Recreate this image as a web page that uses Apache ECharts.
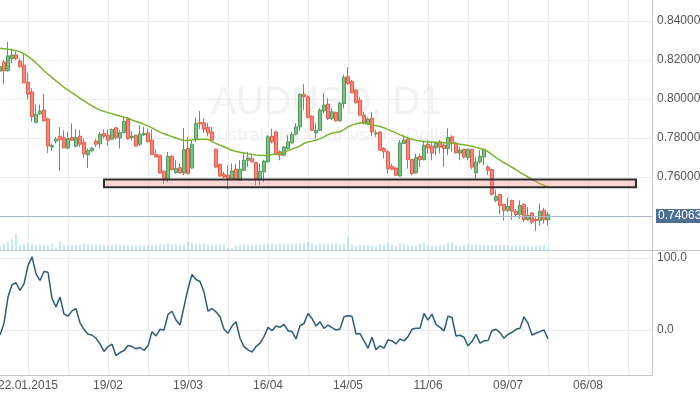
<!DOCTYPE html>
<html><head><meta charset="utf-8">
<script src="https://cdn.jsdelivr.net/npm/echarts@6/dist/echarts.min.js"></script>
<style>html,body{margin:0;padding:0;background:#fff}#c{width:700px;height:394px}</style>
</head><body><div id="c"></div>
<script>
// ---- data ----
const startDate = [2015, 0, 13];          // first trading day shown
const slotCount = 164;                    // trading-day slots on the axis
const tickLabels = ['22.01.2015', '19/02', '19/03', '16/04', '14/05', '11/06', '09/07', '06/08'];
const firstTick = 7, tickStep = 20, gridStep = 10;
const symbolTitle = 'AUDUSD, D1';
const symbolSubtitle = 'Australian Dollar vs US Dollar';
const lastPrice = 0.74063;
const zone = { from: 26, to: 159, top: 0.7587, bottom: 0.7548 };

// [open, close, low, high]
const candles = [
[0.8143,0.8166,0.8133,0.8185],[0.8190,0.8145,0.8075,0.8200],[0.8145,0.8221,0.8140,0.8294],[0.8207,0.8226,0.8183,0.8255],[0.8226,0.8207,0.8200,0.8243],
[0.8195,0.8166,0.8161,0.8209],[0.8173,0.8083,0.8083,0.8235],[0.8086,0.8025,0.7998,0.8135],[0.8036,0.7909,0.7883,0.8055],[0.7880,0.7922,0.7875,0.7972],
[0.7924,0.7938,0.7917,0.7972],[0.7943,0.7888,0.7883,0.8025],[0.7898,0.7759,0.7723,0.7905],[0.7754,0.7761,0.7734,0.7772],[0.7784,0.7794,0.7772,0.7806],
[0.7809,0.7792,0.7631,0.7856],[0.7801,0.7749,0.7746,0.7840],[0.7749,0.7797,0.7742,0.7831],[0.7803,0.7789,0.7784,0.7875],[0.7758,0.7803,0.7751,0.7844],
[0.7809,0.7768,0.7754,0.7840],[0.7777,0.7718,0.7698,0.7797],[0.7715,0.7736,0.7646,0.7746],[0.7734,0.7748,0.7729,0.7754],[0.7784,0.7768,0.7754,0.7794],
[0.7770,0.7818,0.7749,0.7831],[0.7823,0.7809,0.7797,0.7844],[0.7814,0.7789,0.7759,0.7844],[0.7794,0.7844,0.7789,0.7849],[0.7852,0.7803,0.7792,0.7857],
[0.7801,0.7828,0.7746,0.7840],[0.7828,0.7886,0.7823,0.7908],[0.7895,0.7797,0.7792,0.7908],[0.7803,0.7809,0.7789,0.7835],[0.7814,0.7759,0.7758,0.7818],
[0.7768,0.7820,0.7759,0.7866],[0.7816,0.7823,0.7811,0.7857],[0.7826,0.7782,0.7775,0.7849],[0.7789,0.7715,0.7715,0.7844],[0.7717,0.7703,0.7700,0.7741],
[0.7712,0.7621,0.7617,0.7712],[0.7629,0.7592,0.7566,0.7634],[0.7592,0.7706,0.7574,0.7729],[0.7706,0.7638,0.7634,0.7712],[0.7623,0.7643,0.7617,0.7686],
[0.7648,0.7621,0.7617,0.7669],[0.7621,0.7741,0.7609,0.7852],[0.7746,0.7617,0.7614,0.7806],[0.7646,0.7768,0.7643,0.7789],[0.7792,0.7875,0.7780,0.7905],
[0.7880,0.7873,0.7844,0.7938],[0.7878,0.7845,0.7826,0.7900],[0.7854,0.7826,0.7809,0.7878],[0.7831,0.7789,0.7778,0.7857],[0.7742,0.7651,0.7645,0.7746],
[0.7664,0.7605,0.7600,0.7669],[0.7614,0.7600,0.7595,0.7626],[0.7609,0.7592,0.7537,0.7660],[0.7592,0.7631,0.7587,0.7669],[0.7640,0.7592,0.7583,0.7669],
[0.7583,0.7640,0.7583,0.7686],[0.7634,0.7686,0.7631,0.7729],[0.7686,0.7698,0.7651,0.7729],[0.7694,0.7677,0.7674,0.7720],[0.7674,0.7592,0.7557,0.7677],
[0.7587,0.7629,0.7557,0.7669],[0.7626,0.7681,0.7574,0.7689],[0.7677,0.7806,0.7676,0.7814],[0.7809,0.7780,0.7772,0.7849],[0.7831,0.7717,0.7712,0.7837],
[0.7729,0.7712,0.7686,0.7737],[0.7712,0.7754,0.7706,0.7758],[0.7746,0.7780,0.7741,0.7814],[0.7775,0.7818,0.7772,0.7831],[0.7820,0.7857,0.7814,0.7875],
[0.7857,0.8024,0.7837,0.8029],[0.8024,0.8011,0.7943,0.8077],[0.8011,0.7906,0.7900,0.8020],[0.7912,0.7840,0.7837,0.7917],[0.7826,0.7840,0.7797,0.7875],
[0.7840,0.7943,0.7837,0.7952],[0.7940,0.7969,0.7926,0.8029],[0.7974,0.7900,0.7892,0.8003],[0.7900,0.7934,0.7892,0.7952],[0.7931,0.7888,0.7883,0.7934],
[0.7888,0.7977,0.7883,0.7986],[0.7977,0.8111,0.7952,0.8123],[0.8114,0.8080,0.8072,0.8163],[0.8089,0.8032,0.8029,0.8097],[0.8046,0.7981,0.7977,0.8049],
[0.7994,0.7917,0.7914,0.8011],[0.7917,0.7875,0.7870,0.7934],[0.7875,0.7897,0.7866,0.7905],[0.7900,0.7831,0.7809,0.7934],[0.7821,0.7826,0.7806,0.7840],
[0.7831,0.7737,0.7734,0.7835],[0.7746,0.7729,0.7695,0.7754],[0.7729,0.7643,0.7617,0.7737],[0.7655,0.7640,0.7634,0.7669],[0.7646,0.7609,0.7604,0.7651],
[0.7605,0.7775,0.7604,0.7789],[0.7772,0.7789,0.7768,0.7814],[0.7792,0.7689,0.7643,0.7797],[0.7689,0.7617,0.7609,0.7694],[0.7621,0.7700,0.7617,0.7720],
[0.7706,0.7689,0.7651,0.7720],[0.7689,0.7763,0.7686,0.7785],[0.7768,0.7749,0.7720,0.7789],[0.7758,0.7723,0.7686,0.7780],[0.7749,0.7772,0.7712,0.7780],
[0.7780,0.7754,0.7720,0.7789],[0.7763,0.7746,0.7651,0.7780],[0.7746,0.7803,0.7712,0.7849],[0.7806,0.7772,0.7729,0.7814],[0.7775,0.7723,0.7720,0.7780],
[0.7723,0.7737,0.7686,0.7754],[0.7741,0.7703,0.7695,0.7746],[0.7700,0.7741,0.7686,0.7746],[0.7741,0.7651,0.7640,0.7746],[0.7621,0.7677,0.7592,0.7703],
[0.7677,0.7706,0.7669,0.7737],[0.7703,0.7741,0.7660,0.7746],[0.7651,0.7634,0.7609,0.7660],[0.7638,0.7511,0.7506,0.7643],[0.7480,0.7501,0.7471,0.7535],
[0.7511,0.7454,0.7408,0.7514],[0.7460,0.7429,0.7377,0.7463],[0.7429,0.7449,0.7420,0.7494],[0.7480,0.7425,0.7381,0.7484],[0.7425,0.7408,0.7394,0.7437],
[0.7408,0.7454,0.7386,0.7480],[0.7460,0.7381,0.7369,0.7463],[0.7381,0.7403,0.7377,0.7446],[0.7415,0.7369,0.7360,0.7420],[0.7384,0.7377,0.7323,0.7394],
[0.7377,0.7425,0.7352,0.7463],[0.7429,0.7381,0.7360,0.7442],[0.7380,0.74063,0.7350,0.7420]
];

const movingAvg = [
0.8260,0.8258,0.8255,0.8252,0.8248,0.8243,0.8232,0.8218,0.8203,0.8185,
0.8165,0.8145,0.8127,0.8110,0.8093,0.8077,0.8060,0.8045,0.8032,0.8018,
0.8003,0.7990,0.7977,0.7965,0.7953,0.7943,0.7936,0.7930,0.7925,0.7918,
0.7913,0.7907,0.7901,0.7892,0.7885,0.7878,0.7870,0.7862,0.7852,0.7840,
0.7830,0.7822,0.7814,0.7807,0.7800,0.7793,0.7786,0.7788,0.7790,0.7792,
0.7793,0.7794,0.7792,0.7783,0.7772,0.7763,0.7755,0.7745,0.7737,0.7731,
0.7727,0.7723,0.7719,0.7716,0.7713,0.7711,0.7710,0.7712,0.7715,0.7718,
0.7720,0.7726,0.7735,0.7743,0.7750,0.7760,0.7772,0.7780,0.7784,0.7789,
0.7797,0.7806,0.7817,0.7824,0.7828,0.7832,0.7843,0.7858,0.7866,0.7873,
0.7878,0.7877,0.7872,0.7867,0.7863,0.7859,0.7853,0.7843,0.7835,0.7826,
0.7816,0.7808,0.7800,0.7794,0.7789,0.7785,0.7782,0.7780,0.7779,0.7778,
0.7777,0.7776,0.7775,0.7773,0.7771,0.7768,0.7765,0.7762,0.7758,0.7752,
0.7746,0.7741,0.7730,0.7715,0.7700,0.7686,0.7673,0.7662,0.7650,0.7638,
0.7624,0.7612,0.7600,0.7588,0.7576,0.7566,0.7557,0.7549
];

const volume = [
4,6,8.3,11,16,5,6,6.7,6,5,
5,5,5,6,1.7,8.3,5,5,5,5,
5,6,6,5,5,6,5,5,5,5.5,
5,5,4.5,4.5,4.5,5,4.5,5,5,5.5,
5.5,5.5,6.5,5.5,5.5,5.5,6,8.3,7.3,6,
6,6.5,5.5,5.5,6,5.5,5,2,1.8,4,
5,5.5,5,5.5,5.5,5,6,6,5.5,5.5,
6.5,6,6,6,6.5,6.5,6.5,8.5,6.5,5.5,
6,6,5.5,6.5,7,5.5,6,13,5.3,4,
5,5,5,4,3.3,6,6,7.3,5,4,
6.7,6,5.3,5,4,6,6.7,5,4,3.3,
5,5,6.7,7.3,5,4,5,6,5,6,
5,5,5,5,5,5,5,5,4,5,
5,5,4,3.3,4,5,5,1
];

const oscillator = [
-6.9,9.2,45.8,62.8,65.6,55,64.2,89.4,101.8,78,
68.8,81.2,80.2,43.6,32.1,45.8,22,19.3,26.6,29.8,
10,1,-5.9,-6.9,-11.4,-19.3,-29.8,-23,-19.7,-35.8,
-31.2,-28.5,-21.6,-23,-26.1,-24.3,-28.5,-22,-2.3,-8.3,
1,0,21.6,26.1,13.8,6.9,32.1,57.4,77,70.2,
67.4,52.7,26.1,29.8,25.2,18.3,1,-4.5,5.5,11.4,
-11.4,-23,-27.5,-30.7,-23,-18.3,-9.2,3.7,-1,5.5,
3.7,7.8,-1,-2.3,-12.4,5.9,9.2,22.9,16.1,5.5,
11.4,2.3,6.9,3.2,0,1.4,18.3,19.7,19,-5.5,
-5,-15.1,-25.2,-10.1,-27.5,-22,-25.2,-13.8,-15.1,-19.3,
-12.4,-15.1,-9.2,1,2.3,2.3,22.9,13.8,22,7.8,
3.7,-1.4,19.3,17.4,-8.3,-7.3,-10.1,-22,-16.1,-5.9,
-18.3,-15.1,-14.7,-1,1,-3.7,-11.4,-5.9,-3.2,1,
2.3,18.3,9.2,-6.9,-4.5,-2.3,0,-12.4
];

// ---- categories: consecutive trading days (weekdays) ----
const dates = [];
{
  let t = Date.UTC(startDate[0], startDate[1], startDate[2]);
  while (dates.length < slotCount) {
    const d = new Date(t);
    const wd = d.getUTCDay();
    if (wd !== 0 && wd !== 6) dates.push(d.toISOString().slice(0, 10));
    t += 86400000;
  }
}

const isTick = i => i >= firstTick && (i - firstTick) % tickStep === 0;
const isGrid = i => i >= firstTick && (i - firstTick) % gridStep === 0;

const FONT = 'Liberation Sans';
const gridLineColor = '#ebebeb';
const axisColor = '#c8c8c8';
const textColor = '#555';

const chart = echarts.init(document.getElementById('c'), null, { renderer: 'canvas' });

const hiddenX = (gi) => ({
  type: 'category', gridIndex: gi, data: dates, boundaryGap: false,
  axisLine: { show: false }, axisTick: { show: false }, axisLabel: { show: false },
  splitLine: { show: false }
});

chart.setOption({
  animation: false,
  textStyle: { fontFamily: FONT },
  graphic: [
    { type: 'text', x: 326, y: 104, z: -10, silent: true,
      style: { text: symbolTitle, align: 'center', verticalAlign: 'middle', font: '38px "Liberation Sans"', fill: '#f2f2f2' } },
    { type: 'text', x: 330, y: 136, z: -10, silent: true,
      style: { text: symbolSubtitle, align: 'center', verticalAlign: 'middle', font: '19px "Liberation Sans"', fill: '#f2f2f2' } },
    { type: 'line', z: 50, silent: true,
      shape: { x1: 0, y1: 250.5, x2: 700, y2: 250.5 }, style: { stroke: axisColor, lineWidth: 1 } }
  ],
  grid: [
    { left: 0, right: 48, top: -18, height: 273, outerBoundsMode: 'none', containLabel: false },
    { left: 0, right: 48, top: 230, height: 20, outerBoundsMode: 'none', containLabel: false },
    { left: 0, right: 48, top: 250, height: 125, outerBoundsMode: 'none', containLabel: false },
    { left: 0, right: 48, top: 186, height: 216, outerBoundsMode: 'none', containLabel: false }
  ],
  xAxis: [
    { type: 'category', gridIndex: 0, data: dates, boundaryGap: false,
      axisLine: { show: false }, axisTick: { show: false }, axisLabel: { show: false },
      splitLine: { show: true, interval: (i) => isGrid(i), lineStyle: { color: gridLineColor, width: 1 } } },
    hiddenX(1),
    { type: 'category', gridIndex: 2, data: dates, boundaryGap: false,
      axisLine: { show: true, lineStyle: { color: axisColor } }, axisTick: { show: false },
      axisLabel: { show: true, interval: (i) => isTick(i), color: textColor, fontSize: 12, margin: 5,
        formatter: (v, i) => isTick(i) ? (tickLabels[(i - firstTick) / tickStep] || '') : '' },
      splitLine: { show: true, interval: (i) => isGrid(i), lineStyle: { color: gridLineColor, width: 1 } } },
    hiddenX(3)
  ],
  yAxis: [
    { type: 'value', gridIndex: 0, position: 'right', min: 0.72, max: 0.86, interval: 0.02, scale: true,
      axisLine: { show: true, lineStyle: { color: axisColor } }, axisTick: { show: false },
      axisLabel: { show: true, color: textColor, fontSize: 12, margin: 5, showMinLabel: false, showMaxLabel: false,
        formatter: v => Math.abs(v - 0.74) < 1e-9 ? '' : v.toFixed(5) },
      splitLine: { show: true, showMinLine: false, showMaxLine: false, lineStyle: { color: gridLineColor } } },
    { type: 'value', gridIndex: 1, min: 0, max: 20, show: false },
    { type: 'value', gridIndex: 2, position: 'right', min: 0, max: 1,
      axisLine: { show: true, lineStyle: { color: axisColor } }, axisTick: { show: false },
      axisLabel: { show: false }, splitLine: { show: false } },
    { type: 'value', gridIndex: 3, position: 'right', min: -100, max: 200, interval: 100,
      axisLine: { show: false }, axisTick: { show: false },
      axisLabel: { show: true, color: textColor, fontSize: 12, margin: 5, showMinLabel: false, showMaxLabel: false,
        formatter: v => v.toFixed(1) },
      splitLine: { show: true, showMinLine: false, showMaxLine: false, lineStyle: { color: gridLineColor } } }
  ],
  series: [
    { type: 'candlestick', name: 'AUDUSD', xAxisIndex: 0, yAxisIndex: 0, data: candles, barWidth: 3,
      itemStyle: { color: '#7cc181', color0: '#f68a7e', borderColor: '#4f9f57', borderColor0: '#ef5a46', borderWidth: 1 },
      markLine: { silent: true, symbol: 'none', animation: false,
        lineStyle: { color: '#a9b8c8', type: 'solid', width: 1 },
        label: { show: true, position: 'end', distance: 4, formatter: () => lastPrice.toFixed(5),
          backgroundColor: '#4d6f91', color: '#fff', fontSize: 12, padding: [1, 3, 1, 2] },
        data: [{ yAxis: lastPrice }] } },
    { type: 'line', name: 'MA', xAxisIndex: 0, yAxisIndex: 0, data: movingAvg, showSymbol: false, z: 3,
      lineStyle: { color: '#78b42c', width: 1.5 },
      markArea: { silent: true, z: 10,
        itemStyle: { color: 'rgba(255,120,120,0.3)', borderColor: '#2e2e2e', borderWidth: 2 },
        data: [[{ xAxis: zone.from, yAxis: zone.top }, { xAxis: zone.to, yAxis: zone.bottom }]] } },
    { type: 'bar', name: 'Volume', xAxisIndex: 1, yAxisIndex: 1, data: volume, barWidth: 1,
      itemStyle: { color: '#84cff5' } },
    { type: 'line', name: 'Oscillator', xAxisIndex: 3, yAxisIndex: 3, data: oscillator, showSymbol: false,
      lineStyle: { color: '#2b5d78', width: 1.5 } }
  ]
});
</script>
</body></html>
